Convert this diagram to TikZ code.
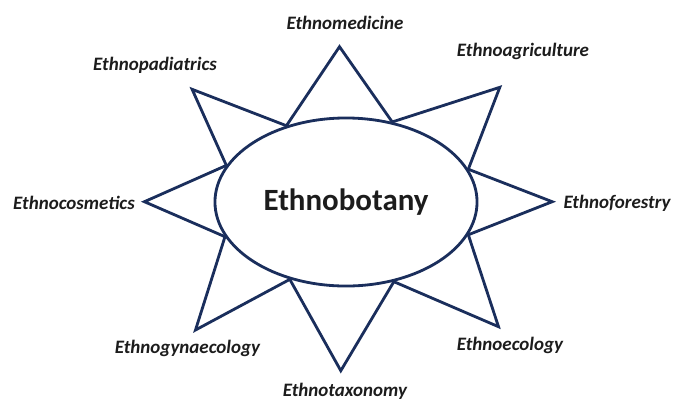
\documentclass[tikz,border=0pt]{standalone}
\usepackage{fontspec}
\setmainfont{Carlito}
\usepackage{xcolor}
\usepackage{tikz}
\usetikzlibrary{shapes.geometric}

\definecolor{navyline}{RGB}{26,46,92}
\definecolor{labeltext}{RGB}{28,28,28}

\begin{document}
\begin{tikzpicture}[
  x=0.025cm, y=-0.025cm,
  ray/.style={draw=navyline, line width=2pt, line join=miter},
  hub/.style={draw=navyline, line width=2pt, ellipse, minimum width=6.55cm, minimum height=4.2cm,
              inner sep=0pt, font=\bfseries\fontsize{22}{25}\selectfont, text=labeltext},
  lbl/.style={font=\bfseries\itshape\fontsize{13.5}{16}\selectfont, text=labeltext, inner sep=1pt},
]
  \useasboundingbox (0,0) rectangle (674,403);

  \node[hub] (bot) at (346,202) {Ethnobotany};

  \coordinate (med)    at (339.5,46.7);
  \coordinate (agri)   at (499.8,87.3);
  \coordinate (forest) at (552.2,201.7);
  \coordinate (eco)    at (498.5,326.7);
  \coordinate (taxo)   at (340.8,370.7);
  \coordinate (gyn)    at (195.5,330);
  \coordinate (cosm)   at (144.4,201.7);
  \coordinate (pad)    at (192.1,89.3);

  % star round the ellipse
  \draw[ray] (bot.128.6) -- (med) -- (bot.60.2) -- (agri) -- (bot.15.3) -- (forest)
    -- (bot.-15.7) -- (eco) -- (bot.-59.7) -- (taxo) -- (bot.234.6) -- (gyn)
    -- (bot.196.8) -- (cosm) -- (bot.163.8) -- (pad) -- cycle;

  \node[lbl] (lmed)    at (345,23)  {Ethnomedicine};
  \node[lbl] (lagri)   at (523,51)  {Ethnoagriculture};
  \node[lbl] (lpad)    at (155,65)  {Ethnopadiatrics};
  \node[lbl] (lcosm)   at (74,203)  {Ethnocosmetics};
  \node[lbl] (lforest) at (617,203) {Ethnoforestry};
  \node[lbl] (lgyn)    at (187.5,348) {Ethnogynaecology};
  \node[lbl] (leco)    at (510,345) {Ethnoecology};
  \node[lbl] (ltaxo)   at (345,391) {Ethnotaxonomy};

\end{tikzpicture}
\end{document}
